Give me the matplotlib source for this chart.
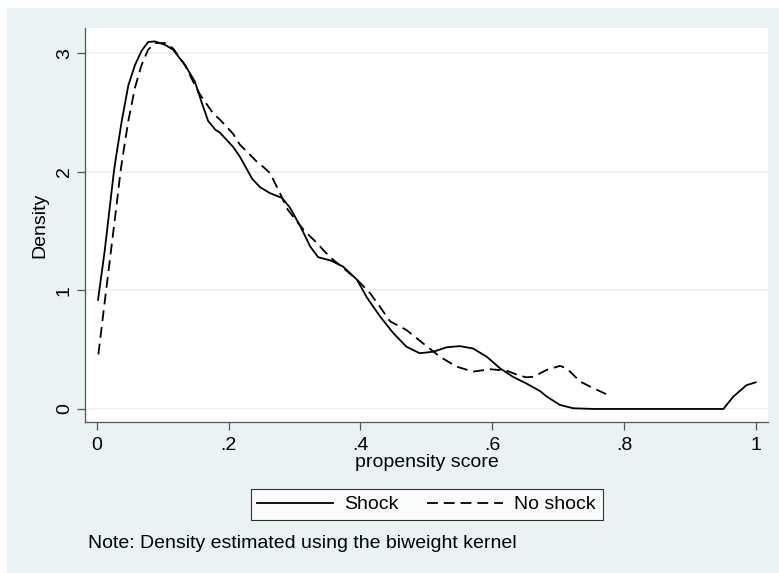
import numpy as np
import matplotlib
matplotlib.use("Agg")
import matplotlib.pyplot as plt
from matplotlib.patches import Rectangle

plt.rcParams['font.family'] = ['Liberation Sans', 'DejaVu Sans']

# kernel density curves
shock_x = [0.002, 0.012, 0.021, 0.026, 0.030, 0.038, 0.048, 0.058, 0.068, 0.078, 0.0885,
           0.104, 0.116, 0.134, 0.149, 0.159, 0.169, 0.180, 0.187, 0.197, 0.207, 0.217,
           0.228, 0.236, 0.248, 0.263, 0.281, 0.293, 0.309, 0.324, 0.336, 0.356, 0.374,
           0.395, 0.410, 0.430, 0.450, 0.470, 0.490, 0.511, 0.531, 0.551, 0.571, 0.592,
           0.612, 0.632, 0.652, 0.673, 0.683, 0.703, 0.723, 0.754, 0.850, 0.951, 0.966,
           0.986, 1.000]
shock_y = [0.92, 1.33, 1.76, 2.00, 2.15, 2.43, 2.73, 2.90, 3.02, 3.095, 3.10,
           3.07, 3.03, 2.90, 2.76, 2.59, 2.43, 2.355, 2.33, 2.27, 2.21, 2.13,
           2.02, 1.94, 1.87, 1.82, 1.78, 1.70, 1.54, 1.37, 1.28, 1.25, 1.20,
           1.09, 0.94, 0.78, 0.64, 0.525, 0.47, 0.483, 0.52, 0.53, 0.51, 0.44,
           0.343, 0.27, 0.215, 0.15, 0.104, 0.034, 0.006, 0.0, 0.0, 0.0, 0.104,
           0.20, 0.225]

noshock_x = [0.0025, 0.0125, 0.031, 0.036, 0.040, 0.048, 0.058, 0.068, 0.078, 0.0885,
             0.104, 0.116, 0.134, 0.149, 0.157, 0.177, 0.187, 0.207, 0.217, 0.228,
             0.243, 0.253, 0.263, 0.278, 0.290, 0.314, 0.334, 0.354, 0.374, 0.395,
             0.415, 0.430, 0.445, 0.470, 0.496, 0.521, 0.546, 0.571, 0.597, 0.622,
             0.642, 0.652, 0.663, 0.683, 0.703, 0.713, 0.734, 0.754, 0.776]
noshock_y = [0.46, 0.92, 1.76, 2.00, 2.15, 2.43, 2.71, 2.90, 3.03, 3.086,
             3.086, 3.04, 2.90, 2.73, 2.65, 2.49, 2.44, 2.32, 2.23, 2.17,
             2.085, 2.04, 1.99, 1.82, 1.68, 1.51, 1.40, 1.28, 1.19, 1.09,
             0.975, 0.86, 0.74, 0.666, 0.55, 0.44, 0.357, 0.315, 0.335, 0.323,
             0.28, 0.267, 0.272, 0.33, 0.363, 0.343, 0.23, 0.174, 0.118]

xticks = [0, 0.2, 0.4, 0.6, 0.8, 1.0]
xticklabels = ['0', '.2', '.4', '.6', '.8', '1']
yticks = [0, 1, 2, 3]

bg = '#EAF2F3'
fs = 14
W, H = 779, 573
fig = plt.figure(figsize=(W / 100, H / 100), dpi=100, facecolor='white')
fig.patches.append(Rectangle((7 / W, 0), 1 - 7 / W, 1 - 8 / H, transform=fig.transFigure,
                             facecolor=bg, edgecolor='none', zorder=-10))

ax = fig.add_axes([85 / W, (H - 422) / H, (768 - 85) / W, (422 - 28) / H])
ax.set_facecolor('white')

ax.plot(shock_x, shock_y, color='black', lw=1.3, label='Shock')
ax.plot(noshock_x, noshock_y, color='black', lw=1.3, dashes=(6, 3.3), label='No shock')

ax.set_xlim(-0.0178, 1.0187)
ax.set_ylim(-0.11, 3.213)
ax.set_xticks(xticks)
ax.set_xticklabels(xticklabels)
ax.set_yticks(yticks)
for y in yticks:
    ax.axhline(y, color=bg, lw=1.3, zorder=0)

for s in ['top', 'right']:
    ax.spines[s].set_visible(False)
for s in ['left', 'bottom']:
    ax.spines[s].set_color('#555555')
    ax.spines[s].set_linewidth(0.9)

ax.tick_params(axis='both', length=5.8, width=0.9, color='#555555', labelsize=fs,
               labelcolor='black')
ax.tick_params(axis='x', pad=5)
ax.tick_params(axis='y', labelrotation=90, pad=3)
for lab in ax.get_yticklabels():
    lab.set_va('center')

ax.set_xlabel('propensity score', fontsize=fs, labelpad=0)
ax.set_ylabel('Density', fontsize=fs)
ax.yaxis.set_label_coords(-0.054, 0.5)

leg = fig.legend(loc='center', bbox_to_anchor=(426.7 / W, (H - 504.5) / H), ncol=2,
                 fontsize=fs, handlelength=3.9, handletextpad=0.58, columnspacing=1.45,
                 borderpad=0.35, frameon=True, fancybox=False)
leg.get_frame().set_edgecolor('black')
leg.get_frame().set_linewidth(0.8)

fig.text(88 / W, (H - 548) / H, 'Note: Density estimated using the biweight kernel',
         fontsize=fs, va='baseline', ha='left')

fig.savefig('out.png', dpi=100, facecolor=fig.get_facecolor())
